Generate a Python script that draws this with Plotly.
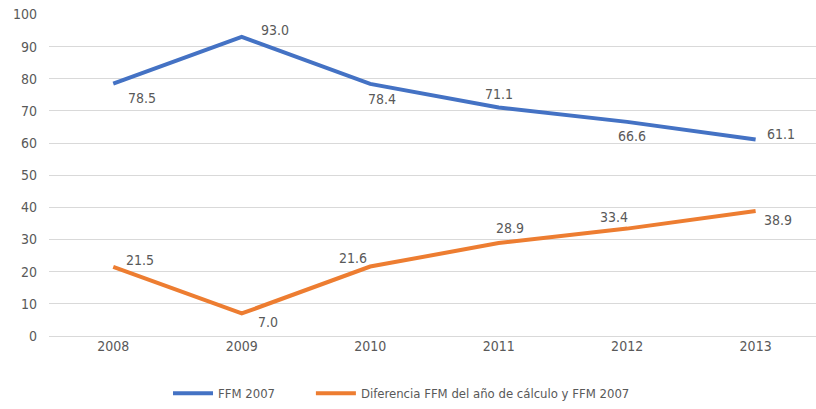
import plotly.graph_objects as go

years = ["2008", "2009", "2010", "2011", "2012", "2013"]
ffm_2007 = [78.5, 93.0, 78.4, 71.1, 66.6, 61.1]
diferencia = [21.5, 7.0, 21.6, 28.9, 33.4, 38.9]
name_a = "FFM 2007"
name_b = "Diferencia FFM del año de cálculo y FFM 2007"

# label offsets (px) for each point
off_a = [(29, -14), (33, 7), (12, -15), (0, 13), (5, -14), (25, 6)]
off_b = [(27, 7), (26, -9), (-17, 9), (11, 15), (-13, 12), (22, -9)]

BLUE = "#4472C4"
ORANGE = "#ED7D31"
GRAY = "#595959"
FONT = "DejaVu Sans Condensed, Liberation Sans Narrow, Liberation Sans, sans-serif"

fig = go.Figure()
fig.add_trace(go.Scatter(x=years, y=ffm_2007, mode="lines", name=name_a,
                         line=dict(color=BLUE, width=4), legend="legend",
                         hoverinfo="skip"))
fig.add_trace(go.Scatter(x=years, y=diferencia, mode="lines", name=name_b,
                         line=dict(color=ORANGE, width=4), legend="legend2",
                         hoverinfo="skip"))

for vals, offs in ((ffm_2007, off_a), (diferencia, off_b)):
    for i, (v, (dx, dy)) in enumerate(zip(vals, offs)):
        fig.add_annotation(x=i, y=v, xref="x", yref="y", text=f"{v:.1f}",
                           showarrow=False, xshift=dx, yshift=dy,
                           font=dict(size=14, color=GRAY, family=FONT))

leg_common = dict(orientation="h", xref="container", yref="container",
                  xanchor="left", yanchor="bottom", y=0.002,
                  font=dict(size=13, color=GRAY), itemwidth=40,
                  bgcolor="rgba(0,0,0,0)")

fig.update_layout(
    width=816, height=409,
    margin=dict(l=49, r=0, t=14, b=73),
    plot_bgcolor="white", paper_bgcolor="white",
    font=dict(family=FONT, size=14, color=GRAY),
    showlegend=True,
    legend=dict(leg_common, x=0.2059),
    legend2=dict(leg_common, x=0.381),
    xaxis=dict(type="category", range=[-0.5, 5.47], showgrid=False,
               showline=False, ticks="", automargin=False,
               tickfont=dict(size=14, color=GRAY)),
    yaxis=dict(range=[0, 100.15], tickvals=list(range(0, 101, 10)),
               showgrid=True, gridcolor="#D9D9D9",
               gridwidth=1, zeroline=True, zerolinecolor="#D9D9D9",
               zerolinewidth=1, showline=False, ticks="", automargin=False,
               tickfont=dict(size=14, color=GRAY), ticklabelstandoff=11),
)

fig.write_html("out.html",
               config={"displayModeBar": False},
               post_script="document.body.style.margin='0';")
